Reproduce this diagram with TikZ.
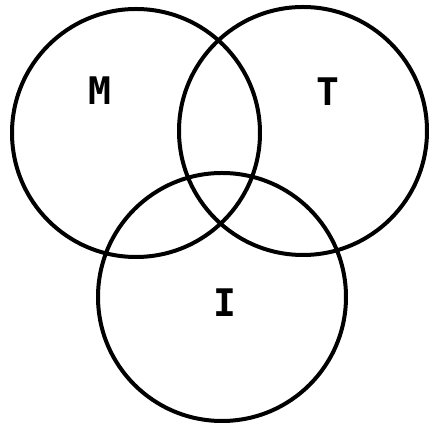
\documentclass[tikz,border=0pt]{standalone}
\usepackage{fontspec}
\newfontfamily\labelfont{DejaVu Sans Mono}
\usepackage{tikz}
\usetikzlibrary{positioning}
\tikzset{
  setcircle/.style={circle,draw=black,line width=4pt,minimum size=248pt,inner sep=0pt},
  setlabel/.style={font=\labelfont\bfseries\fontsize{38}{38}\selectfont,text=black,inner sep=0pt},
}
\begin{document}
\begin{tikzpicture}[x=1pt,y=1pt]
  \useasboundingbox (0,0) rectangle (429,425);
  \node[setcircle] (mset) at (136,292) {};
  \node[setcircle] (tset) at (303,294) {};
  \node[setcircle] (iset) at (222,128) {};

  \node[setlabel] (mlab) at (100,334) {M};
  \node[setlabel] (tlab) at (328,333) {T};
  \node[setlabel] (ilab) at (225,122) {I};
\end{tikzpicture}
\end{document}
